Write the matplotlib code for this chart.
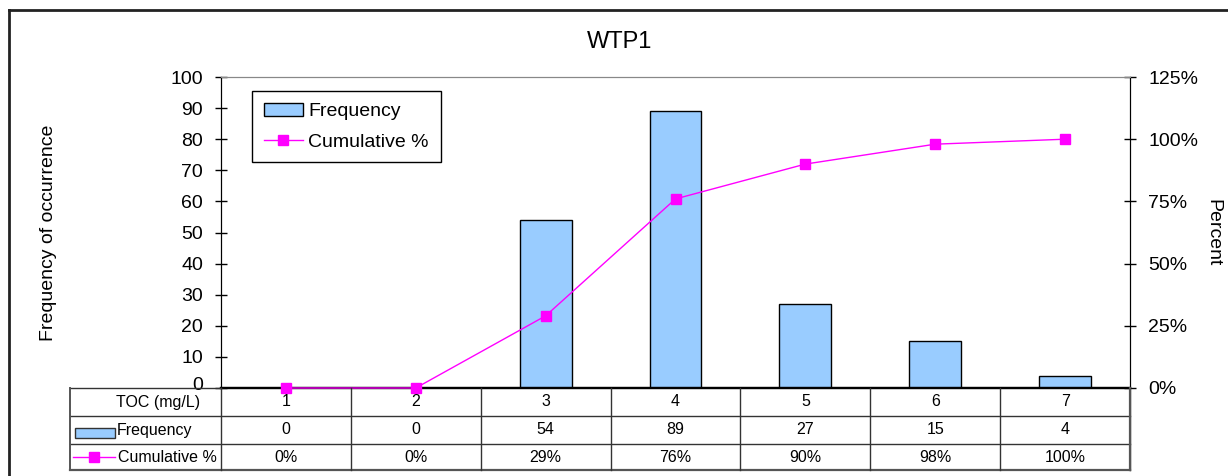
import matplotlib
matplotlib.use("Agg")
import matplotlib.pyplot as plt
from matplotlib.lines import Line2D
from matplotlib.patches import Rectangle
from matplotlib.ticker import FuncFormatter
from matplotlib.transforms import ScaledTranslation

plt.rcParams['font.family'] = ['Liberation Sans', 'DejaVu Sans']

# Data
toc_bins = ['1', '2', '3', '4', '5', '6', '7']
frequency = [0, 0, 54, 89, 27, 15, 4]
cumulative_pct = [0, 0, 29, 76, 90, 98, 100]

W, H = 1228, 476
fig = plt.figure(figsize=(W / 100, H / 100), dpi=100)

def fx(px):
    return px / W

def fy(py):
    return 1 - py / H

# Outer chart frame (top and left edges visible)
fig.add_artist(Line2D([fx(9), 1.0], [fy(10), fy(10)], color='#222222', lw=2))
fig.add_artist(Line2D([fx(9), fx(9)], [fy(10), 0.0], color='#222222', lw=2))

left, right, top, bottom = 221, 1130, 77, 388
ax = fig.add_axes([fx(left), fy(bottom), fx(right) - fx(left), fy(top) - fy(bottom)])
x = list(range(len(toc_bins)))

bars = ax.bar(x, frequency, width=0.4, color='#99CCFF', edgecolor='black', linewidth=1.0,
              label='Frequency', zorder=2)
ax.set_xlim(-0.5, len(toc_bins) - 0.5)
ax.set_ylim(0, 100)
ax.set_yticks(range(0, 101, 10))
ax.set_xticks([])
ax.tick_params(axis='y', direction='inout', length=8, width=1, labelsize=14, pad=9)
ax.set_ylabel('Frequency of occurrence', fontsize=14)
ax.yaxis.set_label_coords((57 - left) / (right - left), 0.5)

# lift the "0" label slightly above the table border
fig.canvas.draw()
zero_lbl = ax.get_yticklabels()[0]
zero_lbl.set_transform(zero_lbl.get_transform() + ScaledTranslation(0, 5 / 100, fig.dpi_scale_trans))

ax2 = ax.twinx()
line, = ax2.plot(x, cumulative_pct, color='#FF00FF', lw=1.0, marker='s', markersize=7,
                 markerfacecolor='#FF00FF', markeredgecolor='#FF00FF', label='Cumulative %',
                 zorder=3, clip_on=False)
ax2.set_ylim(0, 125)
ax2.set_yticks(range(0, 126, 25))
ax2.yaxis.set_major_formatter(FuncFormatter(lambda v, p: f'{int(v)}%'))
ax2.tick_params(axis='y', direction='inout', length=8, width=1, labelsize=14, pad=9)
ax2.set_ylabel('Percent', fontsize=14, rotation=270)
ax2.yaxis.set_label_coords((1221 - left) / (right - left), 0.5)

for a in (ax, ax2):
    a.spines['top'].set_color('#888888')
    a.spines['top'].set_linewidth(0.8)
    a.spines['left'].set_color('black')
    a.spines['right'].set_color('black')
    a.spines['bottom'].set_color('black')
    a.spines['bottom'].set_linewidth(1.6)

fig.text(fx(620), fy(42), 'WTP1', fontsize=17, ha='center', va='center')

# Legend
leg = fig.legend(handles=[bars, line], loc='upper left',
                 bbox_to_anchor=(fx(252), fy(91)), fontsize=14, frameon=True,
                 fancybox=False, edgecolor='black', framealpha=1, borderpad=0.6,
                 handlelength=2.0, handletextpad=0.3, labelspacing=0.65,
                 borderaxespad=0)
leg.get_frame().set_linewidth(1.0)

# Data table beneath the plot
rows_px = [388, 416, 444, 470]
table_left = 70
col_w = (right - left) / len(toc_bins)
grid_col = '#333333'

def hline(py, x0, x1, lw=1.0, color=grid_col):
    fig.add_artist(Line2D([fx(x0), fx(x1)], [fy(py), fy(py)], color=color, lw=lw))

def vline(px, y0, y1, lw=1.0, color=grid_col):
    fig.add_artist(Line2D([fx(px), fx(px)], [fy(y0), fy(y1)], color=color, lw=lw))

hline(rows_px[0], table_left, left, lw=1.0)
hline(rows_px[1], table_left, right, lw=1.0)
hline(rows_px[2], table_left, right, lw=1.0)
hline(rows_px[3], table_left, right, lw=1.6, color='#555555')
vline(table_left, rows_px[0], rows_px[3], lw=1.4, color='#555555')
for i in range(len(toc_bins) + 1):
    vline(left + i * col_w, rows_px[0], rows_px[3], lw=1.0)
vline(right, rows_px[0], rows_px[3], lw=1.6, color='#555555')

def row_mid(r):
    return fy((rows_px[r] + rows_px[r + 1]) / 2)

fs_tab = 11.5
fig.text(fx(158), row_mid(0), 'TOC (mg/L)', fontsize=fs_tab, ha='center', va='center')
fig.add_artist(Rectangle((fx(75), fy(438)), fx(115) - fx(75), fy(428) - fy(438),
                         facecolor='#99CCFF', edgecolor='#333333', lw=1.0))
fig.text(fx(117), row_mid(1), 'Frequency', fontsize=fs_tab, ha='left', va='center')
fig.add_artist(Line2D([fx(73), fx(115)], [row_mid(2), row_mid(2)], color='#FF00FF', lw=1.0))
fig.add_artist(Line2D([fx(94)], [row_mid(2)], color='#FF00FF', marker='s', markersize=7, lw=0))
fig.text(fx(118), row_mid(2), 'Cumulative %', fontsize=fs_tab, ha='left', va='center')

for i, lab in enumerate(toc_bins):
    cx = fx(left + (i + 0.5) * col_w)
    fig.text(cx, row_mid(0), lab, fontsize=fs_tab, ha='center', va='center')
    fig.text(cx, row_mid(1), str(frequency[i]), fontsize=fs_tab, ha='center', va='center')
    fig.text(cx, row_mid(2), f'{cumulative_pct[i]}%', fontsize=fs_tab, ha='center', va='center')

fig.savefig('out.png', dpi=100)
